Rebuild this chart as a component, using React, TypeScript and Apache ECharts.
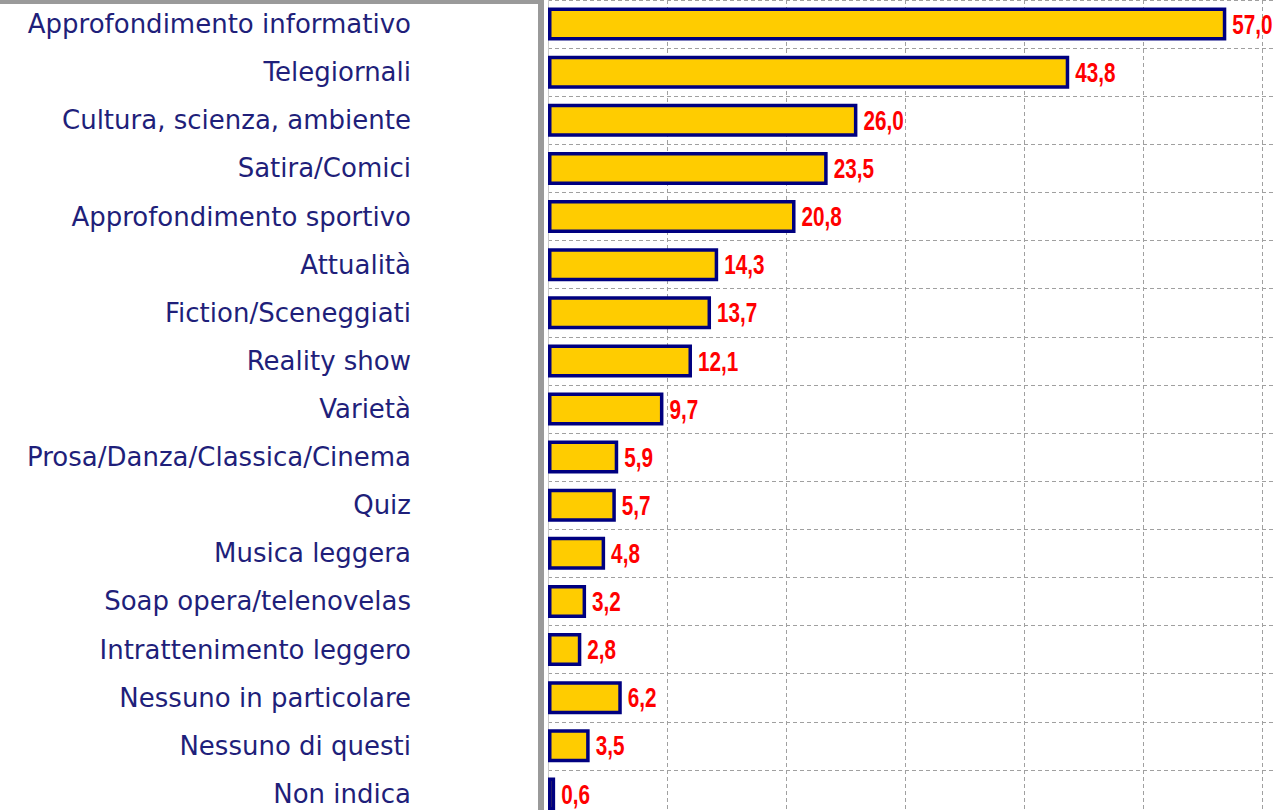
import React, { useEffect, useRef } from "react";
import * as echarts from "echarts";

const categories = [
  "Approfondimento informativo",
  "Telegiornali",
  "Cultura, scienza, ambiente",
  "Satira/Comici",
  "Approfondimento sportivo",
  "Attualità",
  "Fiction/Sceneggiati",
  "Reality show",
  "Varietà",
  "Prosa/Danza/Classica/Cinema",
  "Quiz",
  "Musica leggera",
  "Soap opera/telenovelas",
  "Intrattenimento leggero",
  "Nessuno in particolare",
  "Nessuno di questi",
  "Non indica",
];

const values = [57.0, 43.8, 26.0, 23.5, 20.8, 14.3, 13.7, 12.1, 9.7, 5.9, 5.7, 4.8, 3.2, 2.8, 6.2, 3.5, 0.6];

const xMin = 0;
const xMax = 70;
const xInterval = 10;

const fmt = (v: number) => Number(v).toFixed(1).replace(".", ",");

export default function App() {
  const ref = useRef<HTMLDivElement>(null);
  useEffect(() => {
    if (!ref.current) return;
    const chart = echarts.init(ref.current, null, { renderer: "svg" });
    chart.setOption({
      animation: false,
      backgroundColor: "#ffffff",
      grid: { left: 548, top: 0, width: 833, height: 818, containLabel: false },
      xAxis: {
        type: "value",
        min: xMin,
        max: xMax,
        interval: xInterval,
        axisLabel: { show: false },
        axisLine: { show: false },
        axisTick: { show: false },
        splitLine: { show: true, lineStyle: { color: "#a0a0a0", width: 1, type: [4, 3] } },
      },
      yAxis: {
        type: "category",
        data: categories,
        inverse: true,
        axisLine: { show: true, lineStyle: { color: "#c8c8c8", width: 1 } },
        axisTick: { show: false },
        splitLine: { show: true, lineStyle: { color: "#a0a0a0", width: 1, type: [4, 3] } },
        axisLabel: {
          margin: 137,
          color: "#1f1f7a",
          fontFamily: "DejaVu Sans",
          fontSize: 26,
          align: "right",
          padding: [0, 0, 2, 0],
        },
      },
      series: [
        {
          type: "bar",
          data: values,
          barWidth: 33,
          itemStyle: { color: "#FFCC00", borderColor: "#000080", borderWidth: 3.5 },
          label: { show: false },
        },
        {
          type: "custom",
          data: values.map((v, i) => [v, i]),
          encode: { x: 0, y: 1 },
          z: 10,
          renderItem: (params: any, api: any) => {
            const v = api.value(0);
            const idx = api.value(1);
            const pt = api.coord([v, idx]);
            return {
              type: "text",
              x: pt[0] + 6,
              y: pt[1],
              scaleX: 0.74,
              style: {
                text: fmt(v),
                fill: "#ff0000",
                font: 'bold 28px "Liberation Sans"',
                verticalAlign: "middle",
                align: "left",
              },
            };
          },
        },
      ],
      graphic: [
        { type: "rect", left: 0, top: 0, shape: { width: 538, height: 4 }, style: { fill: "#9a9a9a" }, z: 100 },
        { type: "rect", left: 538, top: 0, shape: { width: 6, height: 830 }, style: { fill: "#9a9a9a" }, z: 100 },
      ],
    });
    return () => chart.dispose();
  }, []);
  return (
    <div style={{ position: "fixed", left: 0, top: 0, width: 1276, height: 810, overflow: "hidden", background: "#fff" }}>
      <div ref={ref} style={{ width: 1400, height: 830 }} />
    </div>
  );
}
